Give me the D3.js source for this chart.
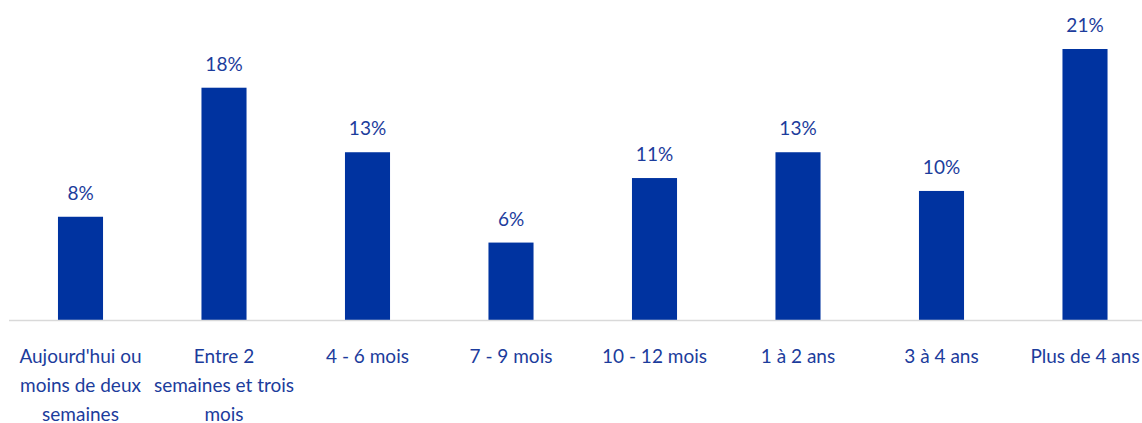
<!DOCTYPE html>
<html>
<head>
<meta charset="utf-8">
<script src="https://cdn.jsdelivr.net/npm/d3@7"></script>
<style>
  body { margin: 0; background: #fff; }
  text { font-family: 'Lato', 'Open Sans', sans-serif; }
</style>
</head>
<body>
<div id="chart"></div>
<script>
// categories, one array of lines per tick label
const categories = [
  ['Aujourd\'hui ou', 'moins de deux', 'semaines'],
  ['Entre 2', 'semaines et trois', 'mois'],
  ['4 - 6 mois'],
  ['7 - 9 mois'],
  ['10 - 12 mois'],
  ['1 à 2 ans'],
  ['3 à 4 ans'],
  ['Plus de 4 ans']
];
const values = [8, 18, 13, 6, 11, 13, 10, 21];

const config = {
  width: 1142,
  height: 423,
  baseline: 320,
  barColor: '#0033a0',
  textColor: '#1c3c9c',
  axisColor: '#d9d9d9'
};

const svg = d3.select('#chart')
  .append('svg')
  .attr('width', config.width)
  .attr('height', config.height);

const keys = categories.map((d, i) => i);

// band scale: step ~143.5px, bars ~45px wide
const scaleX = d3.scaleBand()
  .domain(keys)
  .range([8.75, 1156.75])
  .paddingInner(0.686)
  .paddingOuter(0.343);

const scaleY = d3.scaleLinear()
  .domain([0, 21])
  .range([config.baseline, 49]);

// bars
svg.selectAll('.bar')
  .data(values)
  .join('rect')
  .attr('class', 'bar')
  .attr('x', (d, i) => scaleX(i))
  .attr('y', d => scaleY(d))
  .attr('width', scaleX.bandwidth())
  .attr('height', d => scaleY(0) - scaleY(d))
  .attr('fill', config.barColor);

// baseline
svg.append('line')
  .attr('x1', 9)
  .attr('x2', config.width)
  .attr('y1', config.baseline + 0.5)
  .attr('y2', config.baseline + 0.5)
  .attr('stroke', config.axisColor)
  .attr('stroke-width', 1.5);

// value labels
svg.selectAll('.value')
  .data(values)
  .join('text')
  .attr('class', 'value')
  .attr('x', (d, i) => scaleX(i) + scaleX.bandwidth() / 2)
  .attr('y', d => scaleY(d) - 17)
  .attr('text-anchor', 'middle')
  .attr('fill', config.textColor)
  .style('font-size', '19px')
  .text(d => d + '%');

// category labels
const labels = svg.selectAll('.label')
  .data(categories)
  .join('text')
  .attr('class', 'label')
  .attr('text-anchor', 'middle')
  .attr('fill', config.textColor)
  .style('font-size', '19px');

labels.selectAll('tspan')
  .data((d, i) => d.map(line => ({ line, i })))
  .join('tspan')
  .attr('x', d => scaleX(d.i) + scaleX.bandwidth() / 2)
  .attr('y', (d, j) => 363 + j * 29)
  .text(d => d.line);
</script>
</body>
</html>
